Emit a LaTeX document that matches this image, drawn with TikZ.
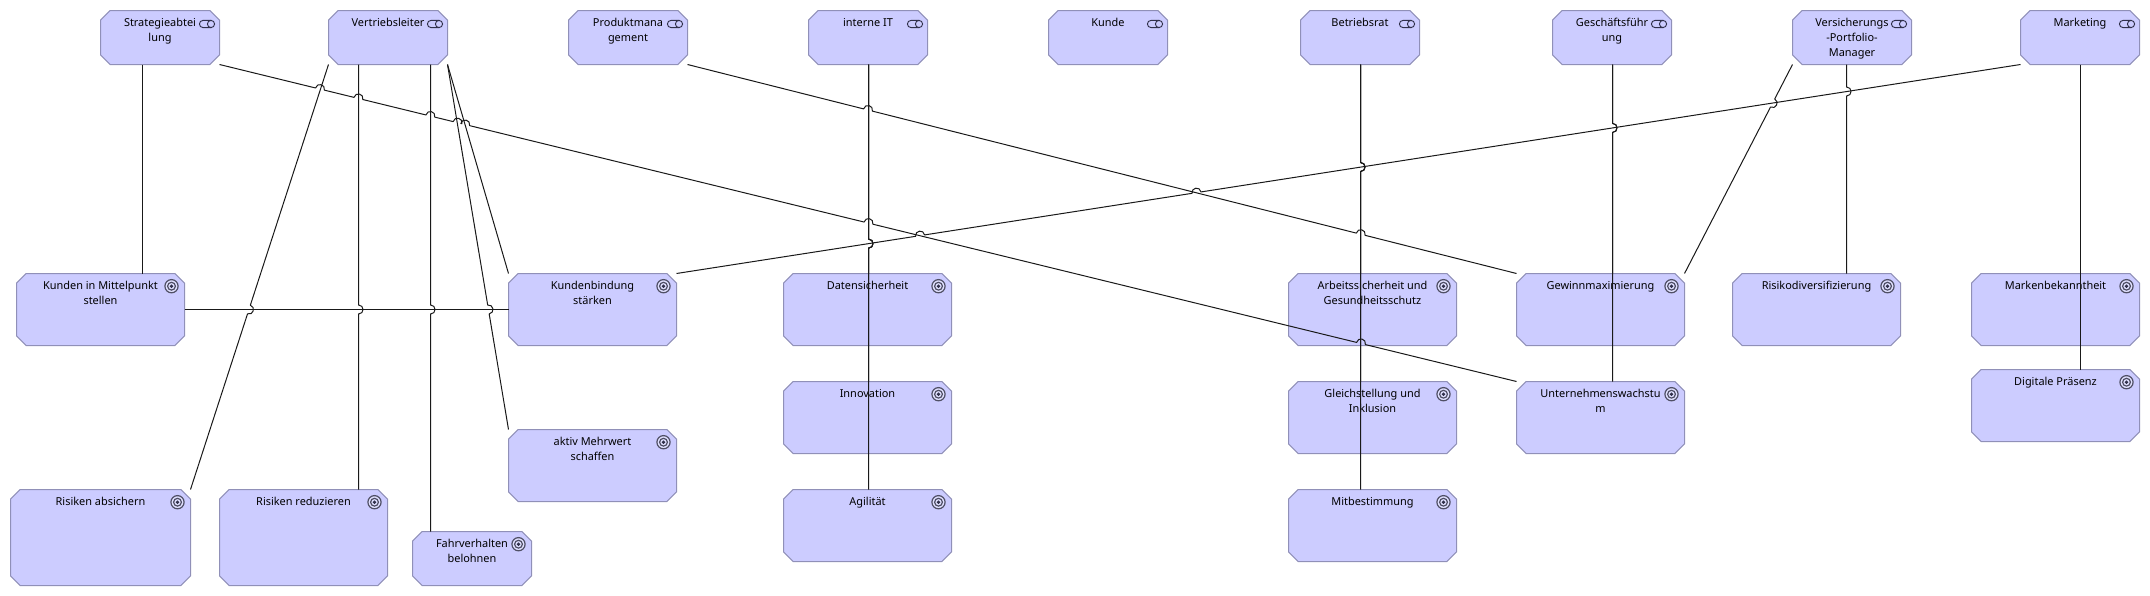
\documentclass[tikz,border=0pt]{standalone}
\usepackage{fontspec}
\setmainfont{Noto Sans}
\usetikzlibrary{calc,shapes.misc}
\definecolor{boxfill}{HTML}{CCCCFF}
\definecolor{boxline}{HTML}{9090B8}
\definecolor{icondark}{HTML}{30304A}
\tikzset{
  x=0.75pt,y=-0.75pt,
  motive/.style={chamfered rectangle,chamfered rectangle xsep=3.6pt,chamfered rectangle ysep=3.6pt,
     draw=boxline,fill=boxfill,line width=0.75pt,inner sep=0pt,outer sep=0pt,text=black,align=center},
  conn/.style={draw=black!90,line width=0.75pt,line cap=butt,line join=round},
}
\newcommand\mfont{\fontsize{8.2pt}{11.25pt}\selectfont}
% box: name, x1, y1, x2, y2, text
\newcommand\ebox[6]{%
  \pgfmathsetlengthmacro\boxw{(#4-#2)*0.75pt}%
  \pgfmathsetlengthmacro\boxh{(#5-#3)*0.75pt}%
  \pgfmathsetlengthmacro\txtw{(#4-#2-30)*0.75pt}%
  \pgfmathsetlengthmacro\txth{(#5-#3-22)*0.75pt}%
  \node[motive,minimum width=\boxw,minimum height=\boxh] (#1) at ({(#2+#4)/2},{(#3+#5)/2})
    {\parbox[c][\txth][t]{\txtw}{\centering\mfont\vspace*{-2.5pt}#6}};
  \coordinate (#1-ne) at (#1.north -| #1.east);
  \coordinate (#1-nw) at (#1.north -| #1.west);
  \coordinate (#1-se) at (#1.south -| #1.east);
  \coordinate (#1-sw) at (#1.south -| #1.west);
}
\newcommand\goalicon[1]{%
  \path (#1-ne) ++(-13,12.7) coordinate (ic);
  \draw[icondark!85,fill=boxfill!60!white,line width=0.9pt] (ic) circle (6.6);
  \draw[icondark!85,fill=boxfill!60!white,line width=0.9pt] (ic) circle (3.9);
  \fill[icondark] (ic) circle (1.9);
}
\newcommand\roleicon[1]{%
  \path (#1-ne) ++(-8.5,13.5) coordinate (ic);
  \draw[icondark,fill=boxfill,line width=0.7pt] (ic) ++(0,-3.6) -- ++(-8,0) arc[start angle=270,end angle=90,radius=3.6] -- ++(8,0);
  \draw[icondark,fill=boxfill,line width=0.7pt] (ic) circle (3.6);
}
\newcommand\hopline[3]{%
  \draw[conn] (#1) \foreach \hopt in {#3} {
    -- ($(#1)!\hopt!(#2)!3.4pt!(#1)$)
    .. controls ($(#1)!\hopt!(#2)!3.4pt!(#1)!4.5pt!90:(#2)$) and ($(#1)!\hopt!(#2)!3.4pt!(#2)!4.5pt!90:(#2)$)
    .. ($(#1)!\hopt!(#2)!3.4pt!(#2)$)
  } -- (#2);
}
\begin{document}
\begin{tikzpicture}
\useasboundingbox (0,0) rectangle (2150,596);
% roles
\ebox{strat}{100.5}{10.5}{219.5}{64.5}{Strategieabtei\\lung}
\ebox{vert}{328.5}{10.5}{447.5}{64.5}{Vertriebsleiter}
\ebox{prod}{568.5}{10.5}{687.5}{64.5}{Produktmana\\gement}
\ebox{it}{808.5}{10.5}{927.5}{64.5}{interne IT}
\ebox{kunde}{1048.5}{10.5}{1167.5}{64.5}{Kunde}
\ebox{brat}{1300.5}{10.5}{1419.5}{64.5}{Betriebsrat}
\ebox{gf}{1552.5}{10.5}{1671.5}{64.5}{Geschäftsführ\\ung}
\ebox{vpm}{1792.5}{10.5}{1911.5}{64.5}{Versicherungs\\-Portfolio-\\Manager}
\ebox{mk}{2020.5}{10.5}{2139.5}{64.5}{Marketing}
% goals
\ebox{kim}{16.5}{273.5}{184.5}{345.5}{Kunden in Mittelpunkt\\stellen}
\ebox{kb}{508.5}{273.5}{676.5}{345.5}{Kundenbindung\\stärken}
\ebox{mw}{508.5}{429.5}{676.5}{501.5}{aktiv Mehrwert\\schaffen}
\ebox{ra}{10.5}{489.5}{190.5}{585.5}{Risiken absichern}
\ebox{rr}{219.5}{489.5}{387.5}{585.5}{Risiken reduzieren}
\ebox{fb}{412.5}{531.5}{531.5}{585.5}{Fahrverhalten\\belohnen}
\ebox{ds}{783.5}{273.5}{951.5}{345.5}{Datensicherheit}
\ebox{inn}{783.5}{381.5}{951.5}{453.5}{Innovation}
\ebox{ag}{783.5}{489.5}{951.5}{561.5}{Agilität}
\ebox{as}{1288.5}{273.5}{1456.5}{345.5}{Arbeitssicherheit und\\Gesundheitsschutz}
\ebox{gl}{1288.5}{381.5}{1456.5}{453.5}{Gleichstellung und\\Inklusion}
\ebox{mb}{1288.5}{489.5}{1456.5}{561.5}{Mitbestimmung}
\ebox{gw}{1516.5}{273.5}{1684.5}{345.5}{Gewinnmaximierung}
\ebox{uw}{1516.5}{381.5}{1684.5}{453.5}{Unternehmenswachstu\\m}
\ebox{rd}{1732.5}{273.5}{1900.5}{345.5}{Risikodiversifizierung}
\ebox{mbk}{1971.5}{273.5}{2139.5}{345.5}{Markenbekanntheit}
\ebox{dp}{1971.5}{369.5}{2139.5}{441.5}{Digitale Präsenz}
% icons
\foreach \n in {strat,vert,prod,it,kunde,brat,gf,vpm,mk} {\roleicon{\n}}
\foreach \n in {kim,kb,mw,ra,rr,fb,ds,inn,ag,as,gl,mb,gw,uw,rd,mbk,dp} {\goalicon{\n}}
% vertical tracks
\coordinate (x1) at (142.5,0);
\coordinate (xr) at (358.5,0);
\coordinate (xf) at (430.5,0);
\coordinate (xi) at (868.5,0);
\coordinate (xb) at (1360.5,0);
\coordinate (xg) at (1612.5,0);
\coordinate (xv) at (1846.5,0);
\coordinate (xm) at (2080.5,0);
% connectors
\draw[conn] (strat.south -| x1) -- (x1 |- kim.north);
\draw[conn] (kim.east) -- (kb.west);
\hopline{strat-se}{uw-nw}{0.07747,0.10712,0.16257,0.18351,0.18944,0.50035,0.88008}
\hopline{vert-sw}{ra-ne}{0.57647}
\hopline{vert.south -| xr}{xr |- rr.north}{0.57647}
\hopline{vert.south -| xf}{xf |- fb.north}{0.52463}
\hopline{vert-se}{mw-nw}{0.67123}
\draw[conn] (vert-se) -- (kb-nw);
\hopline{prod-se}{gw-nw}{0.21774,0.81207}
\hopline{it.south -| xi}{xi |- ds.north}{0.85694}
\hopline{it.south -| xi}{xi |- inn.north}{0.56498}
\hopline{it.south -| xi}{xi |- ag.north}{0.42141}
\hopline{brat.south -| xb}{xb |- as.north}{0.49043}
\hopline{brat.south -| xb}{xb |- gl.north}{0.32334}
\hopline{brat.south -| xb}{xb |- mb.north}{0.24118}
\hopline{gf.south -| xg}{xg |- gw.north}{0.30335}
\hopline{gf.south -| xg}{xg |- uw.north}{0.2}
\hopline{vpm-sw}{gw-ne}{0.18435}
\hopline{vpm.south -| xv}{xv |- rd.north}{0.1292}
\hopline{kb-ne}{mk-sw}{0.18125,0.3869}
\draw[conn] (mk.south -| xm) -- (xm |- mbk.north);
\draw[conn] (mk.south -| xm) -- (xm |- dp.north);
\end{tikzpicture}
\end{document}
